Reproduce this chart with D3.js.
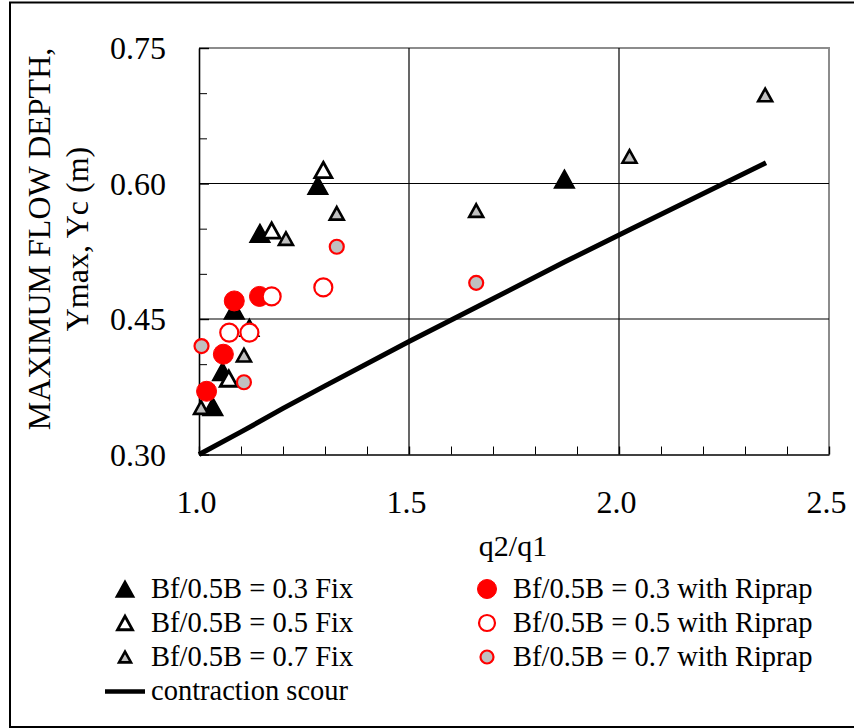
<!DOCTYPE html>
<html>
<head>
<meta charset="utf-8">
<script src="https://cdn.jsdelivr.net/npm/d3@7"></script>
<style>
  body { margin: 0; background: #fff; }
  text { font-family: "Liberation Serif", "Times New Roman", serif; fill: #000; }
</style>
</head>
<body>
<svg id="chart" width="854" height="728"></svg>
<script>
// tick values
var xTicks = [1.0, 1.5, 2.0, 2.5];
var xMinor = [1.1, 1.2, 1.3, 1.4, 1.6, 1.7, 1.8, 1.9, 2.1, 2.2, 2.3, 2.4];
var yTicks = [0.30, 0.45, 0.60, 0.75];
var yMinor = [0.35, 0.40, 0.50, 0.55, 0.65, 0.70];

// Bf/0.5B = 0.3 Fix
var fix03X = [1.033, 1.056, 1.084, 1.145, 1.283, 1.870];
var fix03Y = [0.353, 0.392, 0.460, 0.545, 0.598, 0.605];
// Bf/0.5B = 0.5 Fix
var fix05X = [1.071, 1.120, 1.173, 1.296];
var fix05Y = [0.384, 0.440, 0.548, 0.615];
// Bf/0.5B = 0.7 Fix
var fix07X = [1.005, 1.107, 1.207, 1.328, 1.660, 2.025, 2.348];
var fix07Y = [0.352, 0.410, 0.539, 0.567, 0.570, 0.630, 0.698];
// Bf/0.5B = 0.3 with Riprap
var rip03X = [1.018, 1.058, 1.084, 1.144];
var rip03Y = [0.370, 0.411, 0.470, 0.475];
// Bf/0.5B = 0.5 with Riprap
var rip05X = [1.072, 1.120, 1.173, 1.296];
var rip05Y = [0.435, 0.435, 0.475, 0.485];
// Bf/0.5B = 0.7 with Riprap
var rip07X = [1.006, 1.107, 1.328, 1.660];
var rip07Y = [0.420, 0.380, 0.530, 0.490];
// contraction scour line
var scourX = [1.00, 1.10, 1.20, 1.30, 1.50, 1.66, 1.87, 2.03, 2.35];
var scourY = [0.300, 0.325, 0.351, 0.376, 0.425, 0.463, 0.513, 0.550, 0.623];

!function() {
  var svg = d3.select("#chart");
  var margin = {left: 199, right: 829, top: 48, bottom: 454.5};

  var x = d3.scaleLinear().domain([1.0, 2.5]).range([margin.left, margin.right]);
  var y = d3.scaleLinear().domain([0.30, 0.75]).range([margin.bottom, margin.top]);

  function zip(xs, ys) { return xs.map(function(v, i) { return {x: v, y: ys[i]}; }); }

  // outer frame
  svg.append("rect")
    .attr("x", 10).attr("y", 2.5).attr("width", 860).attr("height", 724.5)
    .attr("fill", "none").attr("stroke", "#000").attr("stroke-width", 2);

  // plot border (top/right, grey)
  svg.append("path")
    .attr("d", "M" + margin.left + "," + margin.top + "H" + margin.right + "V" + margin.bottom)
    .attr("fill", "none").attr("stroke", "#8c8c8c").attr("stroke-width", 2);

  // gridlines
  svg.append("g").selectAll("line").data([0.45, 0.60]).enter().append("line")
    .attr("x1", margin.left).attr("x2", margin.right)
    .attr("y1", function(d) { return y(d); }).attr("y2", function(d) { return y(d); })
    .attr("stroke", "#000").attr("stroke-width", 1.2);
  svg.append("g").selectAll("line").data([1.5, 2.0]).enter().append("line")
    .attr("y1", margin.top).attr("y2", margin.bottom)
    .attr("x1", function(d) { return x(d); }).attr("x2", function(d) { return x(d); })
    .attr("stroke", "#000").attr("stroke-width", 1.2);

  // minor ticks
  svg.append("g").attr("transform", "translate(" + margin.left + ",0)")
    .call(d3.axisLeft(y).tickValues(yMinor).tickSize(-8).tickFormat(""))
    .call(function(g) { g.select(".domain").remove(); });
  svg.append("g").attr("transform", "translate(0," + margin.bottom + ")")
    .call(d3.axisBottom(x).tickValues(xMinor).tickSize(-8).tickFormat(""))
    .call(function(g) { g.select(".domain").remove(); });

  // y axis
  var yAxis = svg.append("g").attr("transform", "translate(" + margin.left + ",0)")
    .call(d3.axisLeft(y).tickValues(yTicks).tickSize(-10).tickSizeOuter(0).tickPadding(33)
      .tickFormat(d3.format(".2f")));
  yAxis.selectAll("text").attr("font-size", 32).attr("dy", "0.34em");

  // x axis
  var xAxis = svg.append("g").attr("transform", "translate(0," + margin.bottom + ")")
    .call(d3.axisBottom(x).tickValues(xTicks).tickSize(-8).tickSizeOuter(0).tickPadding(36)
      .tickFormat(d3.format(".1f")));
  xAxis.selectAll("text").attr("font-size", 32).attr("dx", -3);

  [yAxis, xAxis].forEach(function(g) {
    g.attr("font-family", null).attr("font-size", null);
    g.select(".domain").attr("stroke-width", 1.6);
    g.selectAll(".tick line").attr("stroke-width", 1.4);
  });

  // axis titles
  svg.append("text").attr("x", 513).attr("y", 556)
    .attr("text-anchor", "middle").attr("font-size", 30).text("q2/q1");

  var yTitle = svg.append("text").attr("transform", "translate(50,239) rotate(-90)")
    .attr("text-anchor", "middle").attr("font-size", 32);
  yTitle.append("tspan").attr("x", 0).attr("y", 0).text("MAXIMUM FLOW DEPTH,");
  yTitle.append("tspan").attr("x", 0).attr("y", 38).text("Ymax, Yc (m)");

  // marker shapes (size = width for triangles, radius for circles)
  var triangle = {
    draw: function(ctx, size) {
      var w = size, h = size * 0.9;
      ctx.moveTo(0, -h / 2);
      ctx.lineTo(w / 2, h / 2);
      ctx.lineTo(-w / 2, h / 2);
      ctx.closePath();
    }
  };
  var circle = {
    draw: function(ctx, size) {
      ctx.moveTo(size, 0);
      ctx.arc(0, 0, size, 0, 2 * Math.PI);
    }
  };

  var series = [
    {name: "Bf/0.5B = 0.3 Fix", xs: fix03X, ys: fix03Y, type: triangle, size: 20, fill: "#000", stroke: "#000", sw: 1.5, lsize: 18},
    {name: "Bf/0.5B = 0.5 Fix", xs: fix05X, ys: fix05Y, type: triangle, size: 17, fill: "#fff", stroke: "#000", sw: 2.8, lsize: 15},
    {name: "Bf/0.5B = 0.7 Fix", xs: fix07X, ys: fix07Y, type: triangle, size: 14, fill: "#c0c0c0", stroke: "#000", sw: 2.6, lsize: 12},
    {name: "Bf/0.5B = 0.3 with Riprap", xs: rip03X, ys: rip03Y, type: circle, size: 10, fill: "#ff0000", stroke: "#ff0000", sw: 1, lsize: 9.5},
    {name: "Bf/0.5B = 0.5 with Riprap", xs: rip05X, ys: rip05Y, type: circle, size: 9, fill: "#fff", stroke: "#ff0000", sw: 2.2, lsize: 8},
    {name: "Bf/0.5B = 0.7 with Riprap", xs: rip07X, ys: rip07Y, type: circle, size: 7, fill: "#c0c0c0", stroke: "#ff0000", sw: 2.2, lsize: 6.5}
  ];

  // contraction scour line
  var line = d3.line().x(function(d) { return x(d.x); }).y(function(d) { return y(d.y); });
  svg.append("path").datum(zip(scourX, scourY))
    .attr("d", line).attr("fill", "none").attr("stroke", "#000").attr("stroke-width", 5);

  // points
  series.forEach(function(s) {
    svg.append("g").selectAll("path").data(zip(s.xs, s.ys)).enter().append("path")
      .attr("transform", function(d) { return "translate(" + x(d.x) + "," + y(d.y) + ")"; })
      .attr("d", d3.symbol(s.type, s.size))
      .attr("fill", s.fill).attr("stroke", s.stroke).attr("stroke-width", s.sw);
  });

  // legend
  var legRows = [598, 632, 666, 700];
  var leg = svg.append("g");
  series.forEach(function(s, i) {
    var col = i < 3 ? 0 : 1;
    var row = i % 3;
    var mx = col === 0 ? 125 : 487;
    var tx = col === 0 ? 151 : 513;
    leg.append("path")
      .attr("transform", "translate(" + mx + "," + (legRows[row] - 9) + ")")
      .attr("d", d3.symbol(s.type, s.lsize))
      .attr("fill", s.fill).attr("stroke", s.stroke).attr("stroke-width", s.sw);
    leg.append("text").attr("x", tx).attr("y", legRows[row])
      .attr("font-size", 28.5).text(s.name);
  });
  leg.append("line").attr("x1", 105).attr("x2", 145)
    .attr("y1", legRows[3] - 8.5).attr("y2", legRows[3] - 8.5)
    .attr("stroke", "#000").attr("stroke-width", 4.5);
  leg.append("text").attr("x", 151).attr("y", legRows[3])
    .attr("font-size", 28.5).text("contraction scour");
}();
</script>
</body>
</html>
